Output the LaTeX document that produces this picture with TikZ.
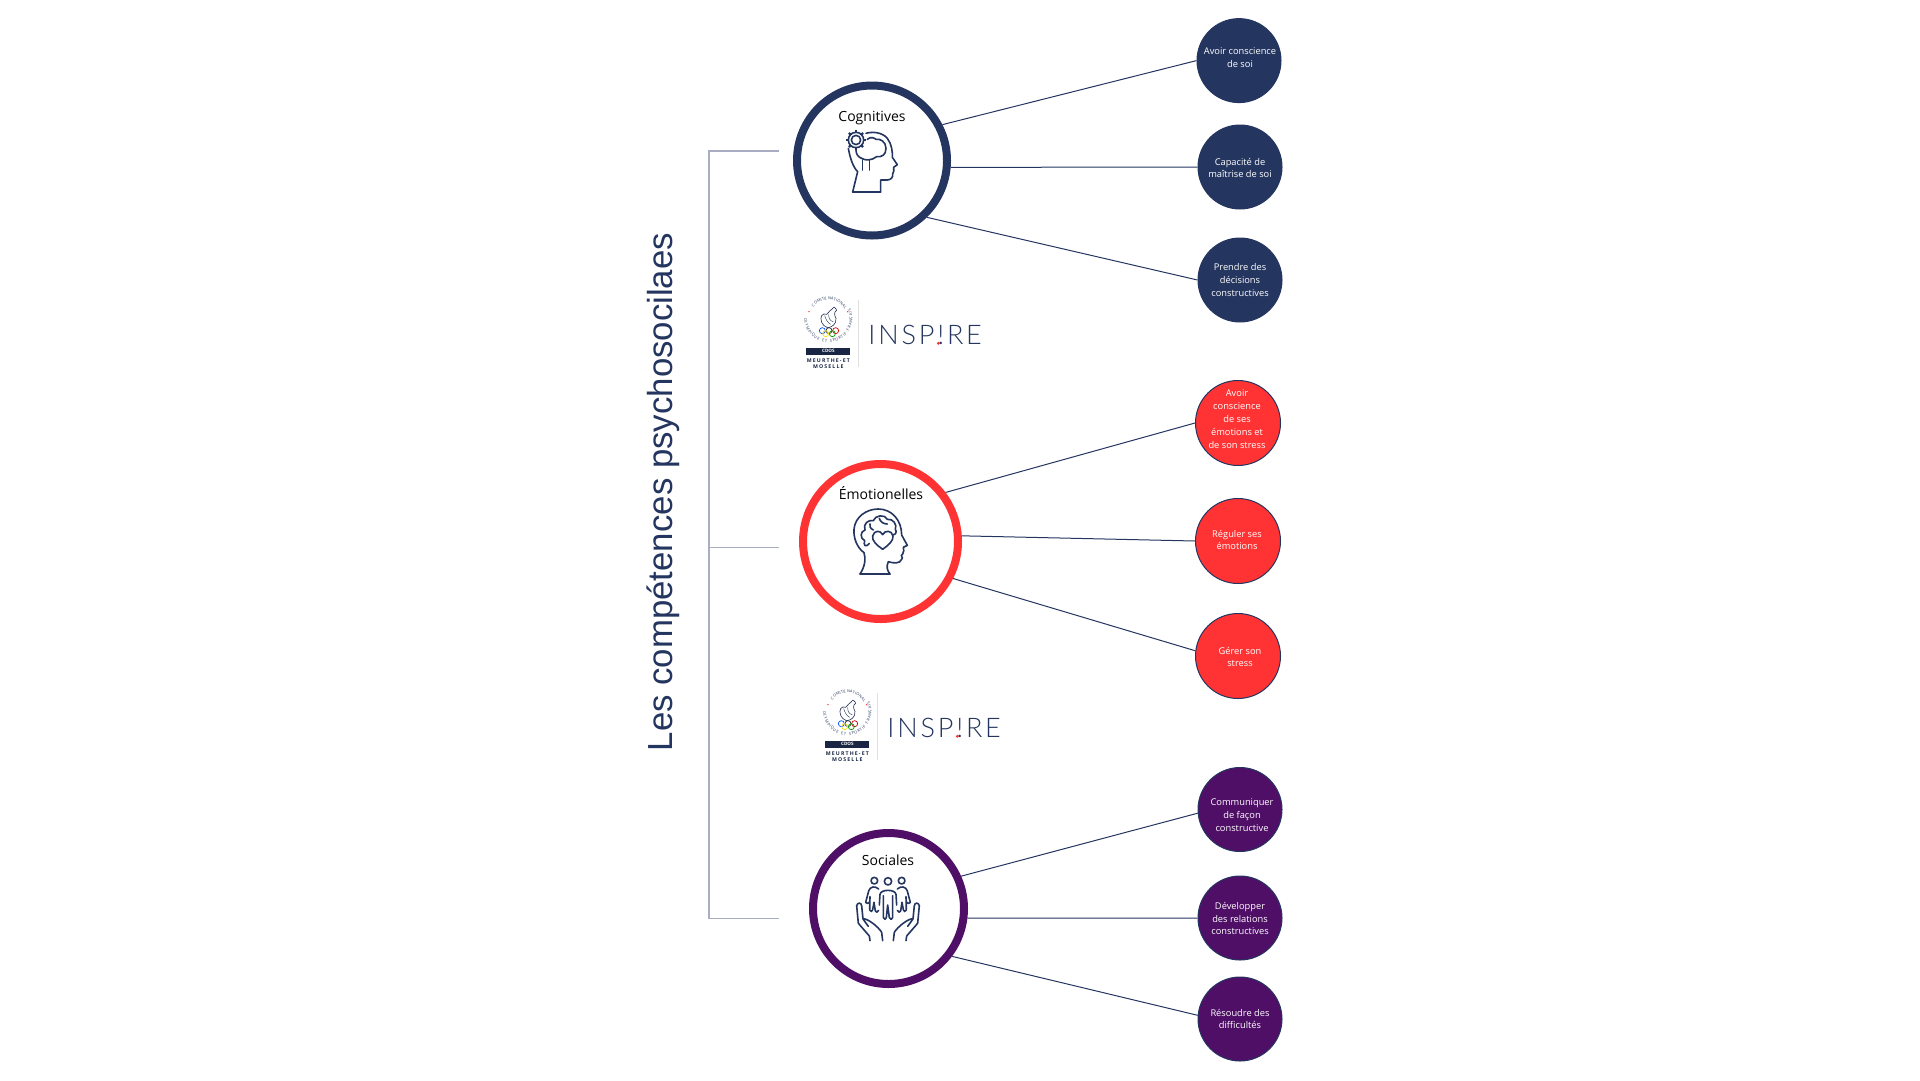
\documentclass[tikz,border=0pt]{standalone}
\usepackage{fontspec}
\setmainfont{Open Sans}
\newfontfamily\titlefont{Liberation Sans}
\newfontfamily\logofont{Lato}[UprightFont=* Light,LetterSpace=10.5]
\newfontfamily\badgefont{Open Sans}[LetterSpace=22]
\definecolor{navy}{HTML}{24355F}
\definecolor{redc}{HTML}{FF3333}
\definecolor{purp}{HTML}{4F0F66}
\definecolor{brack}{HTML}{A9ADC1}
\tikzset{
  x=1pt,y=-1pt,
  bigc/.style={circle,draw=#1,line width=8pt,fill=white,minimum size=150pt,inner sep=0pt},
  smallc/.style={circle,draw=navy,fill=#1,line width=1pt,minimum size=84pt,inner sep=0pt},
  smalltxt/.style={text=white,font=\fontsize{9.3}{12.9}\selectfont,align=center,inner sep=0pt},
  bigtxt/.style={text=black,font=\fontsize{14}{17}\selectfont,inner sep=0pt},
  conn/.style={draw=navy,line width=1pt},
  icon/.style={draw=navy,line width=1.6pt,line cap=round,line join=round},
  insplogo/.pic={
    \begin{scope}[x=0.3333pt,y=-0.3333pt]
      \draw[navy!85!black,line width=.6pt,line join=round] (95,112) .. controls (88,95) and (98,82) .. (110,88) .. controls (116,78) and (124,76) .. (132,66) .. controls (136,72) and (140,70) .. (140,76) .. controls (132,80) and (132,90) .. (138,100) .. controls (140,118) and (124,128) .. (112,128) .. controls (104,124) and (98,120) .. (95,112) -- cycle;
      \draw[navy!85!black,line width=.4pt] (104,92) .. controls (108,104) and (112,112) .. (122,118) (116,88) .. controls (116,100) and (120,108) .. (130,110);
      \draw[blue!70!cyan,line width=.7pt] (97,137) circle (9);
      \draw[black!80,line width=.7pt] (117,137) circle (9);
      \draw[red!80!black,line width=.7pt] (137,137) circle (9);
      \draw[yellow!80!orange,line width=.7pt] (107,146) circle (9);
      \draw[green!60!black,line width=.7pt] (127,146) circle (9);
      \fill[redc] (57,80) circle (2.4) (173,80) circle (2.4);
      \foreach \c/\a [count=\i] in {C/139,O/129,M/119,I/111,T/105,É/98,N/86,A/78,T/71,I/65,O/58,N/49,A/40,L/32}{
        \node[inner sep=0pt,rotate=\a-90,text=navy,font=\fontsize{3.9}{4}\selectfont] (-up\i) at ({115+60*cos(\a)},{100-60*sin(\a)}) {\c};
      }
      \foreach \c/\a [count=\i] in {O/183,L/191,Y/198,M/206,P/215,I/221,Q/228,U/236,E/244,E/257,T/264,S/277,P/284,O/292,R/300,T/307,I/313,F/318,F/330,R/337,A/345,N/353,Ç/1,A/9,I/15,S/21}{
        \node[inner sep=0pt,rotate=\a+90,text=navy,font=\fontsize{3.9}{4}\selectfont] (-lo\i) at ({115+68*cos(\a)},{100-68*sin(\a)}) {\c};
      }
      \fill[navy!70!black] (49,188) rectangle (181,209);
      \node[inner sep=0pt,text=white,font=\fontsize{4.6}{5}\selectfont\bfseries] (-cdos) at (115,198.5) {CDOS};
      \node[inner sep=0pt,text=navy!70!black,font=\badgefont\fontsize{5.2}{5.6}\selectfont\bfseries,align=center] (-dept) at (115,236) {MEURTHE-ET\\MOSELLE};
      \draw[black!12,line width=.8pt] (206,45) -- (206,245);
      \node[inner sep=0pt,text=navy,font=\logofont\fontsize{27}{28}\selectfont,anchor=base] (-word) at (405.5,178) {INSP!RE};
      \fill[redc] (445,175) circle (4.6);
    \end{scope}
  }
}
\begin{document}
\begin{tikzpicture}
\useasboundingbox (0,0) rectangle (1920,1080);
\node[rotate=90,text=navy,font=\titlefont\fontsize{34.8}{40}\selectfont,inner sep=0pt] (title) at (663,492) {Les compétences psychosocilaes};
\coordinate (bA) at (779,151); \coordinate (bM) at (779,547.5); \coordinate (bC) at (779,918.5);
\coordinate (cA) at (709,151); \coordinate (cM) at (709,547.5); \coordinate (cC) at (709,918.5);
\draw[brack,line width=1.6pt] (bA) -- (cA) -- (cC) -- (bC);
\draw[brack,line width=1.6pt] (cM) -- (bM);
\node[bigc=navy] (c1) at (872,160.5) {};
\node[bigc=redc,minimum size=155pt] (c2) at (880.5,541.5) {};
\node[bigc=purp,minimum size=151pt] (c3) at (888.5,908.5) {};
\node[bigtxt] (t1) at (872,118.5) {Cognitives};
\node[bigtxt] (t2) at (881,493) {Émotionelles};
\node[bigtxt] (t3) at (888,860) {Sociales};
\node[smallc=navy] (s1) at (1239,60.6) {};
\node[smallc=navy] (s2) at (1240,167) {};
\node[smallc=navy] (s3) at (1240,280) {};
\node[smallc=redc,minimum size=85pt] (s4) at (1238,423) {};
\node[smallc=redc,minimum size=85pt] (s5) at (1238,541) {};
\node[smallc=redc,minimum size=85pt] (s6) at (1238,656) {};
\node[smallc=purp] (s7) at (1240,809.5) {};
\node[smallc=purp] (s8) at (1240,918) {};
\node[smallc=purp] (s9) at (1240,1019) {};
\node[smalltxt] (l1) at (1240,57.5) {Avoir conscience\\de soi};
\node[smalltxt] (l2) at (1240,168) {Capacité de\\maîtrise de soi};
\node[smalltxt] (l3) at (1240,280) {Prendre des\\décisions\\constructives};
\node[smalltxt] (l4) at (1237,419) {Avoir\\conscience\\de ses\\émotions et\\de son stress};
\node[smalltxt] (l5) at (1237,540) {Réguler ses\\émotions};
\node[smalltxt] (l6) at (1240,657) {Gérer son\\stress};
\node[smalltxt] (l7) at (1242,815.5) {Communiquer\\de façon\\constructive};
\node[smalltxt] (l8) at (1240,918.5) {Développer\\des relations\\constructives};
\node[smalltxt] (l9) at (1240,1019) {Résoudre des\\difficultés};
\draw[conn] (c1.27) -- (s1.west);
\draw[conn] (c1.-5) -- (s2.west);
\draw[conn] (c1.-46) -- (s3.west);
\draw[conn] (c2.37) -- (s4.west);
\draw[conn] (c2.4) -- (s5.west);
\draw[conn] (c2.-27) -- (s6.173);
\draw[conn] (c3.24) -- (s7.185);
\draw[conn] (c3.-7.5) -- (s8.west);
\draw[conn] (c3.-37) -- (s9.175);
\begin{scope}[shift={(780,70)},x=0.3333pt,y=-0.3333pt]
  \draw[icon] (218,366) -- (302,366);
  \draw[icon] (205,235) .. controls (210,262) and (218,290) .. (233,305) -- (218,366);
  \draw[icon] (258,190) .. controls (275,185) and (305,185) .. (322,205) .. controls (335,222) and (338,245) .. (337,262) -- (352,284) -- (341,292) .. controls (341,300) and (343,306) .. (338,312) .. controls (340,322) and (332,330) .. (322,330) -- (302,330) -- (302,366);
  \draw[icon] (262,208) .. controls (272,198) and (285,205) .. (288,208) .. controls (300,205) and (318,215) .. (318,235) .. controls (318,255) and (305,262) .. (290,260) .. controls (275,272) and (255,272) .. (245,265) .. controls (235,262) and (228,252) .. (228,240);
  \draw[icon] (248,270) -- (248,300) (268,270) -- (268,300);
  \draw[icon] (228,210) circle (14);
  \draw[icon] (228,210) circle (23);
  \foreach \a in {0,45,...,315}{ \draw[icon,line width=2.4pt,line cap=butt] (228,210) ++(\a:23) -- ++(\a:7); }
\end{scope}
\begin{scope}[shift={(790,450)},x=0.3333pt,y=-0.3333pt]
  \draw[icon] (210,372) -- (300,372);
  \draw[icon] (210,372) .. controls (225,350) and (228,325) .. (222,308) .. controls (200,292) and (190,262) .. (192,238) .. controls (195,200) and (230,177) .. (265,177) .. controls (305,177) and (335,210) .. (335,255) -- (352,286) -- (340,292) .. controls (341,300) and (343,305) .. (338,312) .. controls (328,318) and (342,322) .. (335,328) .. controls (330,342) and (310,340) .. (295,335) .. controls (288,350) and (292,362) .. (300,372);
  \draw[icon] (278,298) .. controls (260,285) and (245,272) .. (248,258) .. controls (252,240) and (272,240) .. (278,254) .. controls (284,240) and (306,240) .. (309,258) .. controls (311,272) and (296,285) .. (278,298) -- cycle;
  \draw[icon] (238,280) .. controls (225,295) and (220,285) .. (224,272) .. controls (210,265) and (210,245) .. (225,240) .. controls (218,222) and (235,208) .. (250,212) .. controls (255,195) and (285,192) .. (292,208) .. controls (310,205) and (322,225) .. (316,238) .. controls (322,245) and (316,255) .. (310,254);
  \draw[icon] (250,240) .. controls (240,235) and (238,228) .. (240,222) (268,205) .. controls (270,215) and (280,222) .. (292,222);
\end{scope}
\begin{scope}[shift={(800,825)},x=0.3333pt,y=-0.3333pt]
  \draw[icon] (223,167) circle (10) (264,169) circle (11) (305,167) circle (10);
  \draw[icon] (238,240) -- (240,208) .. controls (242,192) and (286,192) .. (288,208) -- (290,240) (250,212) -- (250,278) .. controls (252,285) and (258,284) .. (259,278) -- (263,240) -- (268,278) .. controls (270,285) and (277,284) .. (278,278) -- (278,212);
  \draw[icon] (236,192) .. controls (225,182) and (210,184) .. (206,198) -- (197,232) .. controls (200,238) and (205,236) .. (207,232) (210,215) -- (209,255) .. controls (212,262) and (217,260) .. (218,254) -- (222,232) -- (226,258) .. controls (228,264) and (234,262) .. (236,256);
  \draw[icon] (292,192) .. controls (303,182) and (318,184) .. (322,198) -- (331,232) .. controls (328,238) and (323,236) .. (321,232) (318,215) -- (319,255) .. controls (316,262) and (311,260) .. (310,254) -- (306,232) -- (302,258) .. controls (300,264) and (294,262) .. (292,256);
  \draw[icon] (210,347) -- (208,333) -- (175,295) -- (170,242) .. controls (172,232) and (184,232) .. (185,242) -- (189,282) -- (205,304) (189,282) .. controls (200,278) and (235,305) .. (245,322) -- (248,347);
  \draw[icon] (318,347) -- (320,333) -- (353,295) -- (358,242) .. controls (356,232) and (344,232) .. (343,242) -- (339,282) -- (323,304) (339,282) .. controls (328,278) and (293,305) .. (283,322) -- (280,347);
\end{scope}
\pic[shift={(790,285)}] (lg1) {insplogo};
\pic[shift={(809,678)}] (lg2) {insplogo};
\end{tikzpicture}
\end{document}
